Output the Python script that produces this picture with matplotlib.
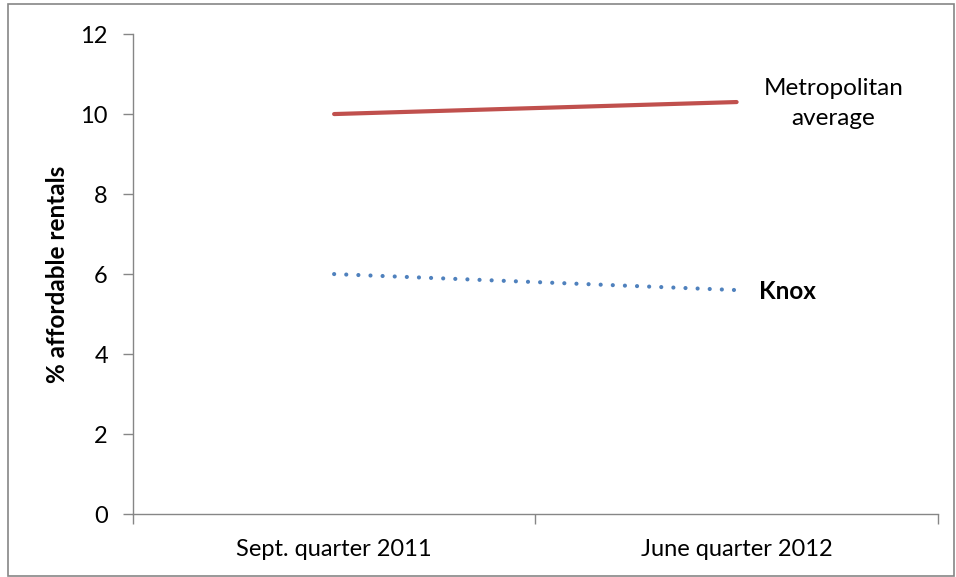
import matplotlib
matplotlib.use("Agg")
import matplotlib.pyplot as plt
from matplotlib.patches import Rectangle

categories = ["Sept. quarter 2011", "June quarter 2012"]
metro = [10.0, 10.3]
knox = [6.0, 5.6]
yticks = [0, 2, 4, 6, 8, 10, 12]

plt.rcParams['font.family'] = ['Lato', 'DejaVu Sans']

fig = plt.figure(figsize=(9.56, 5.77), dpi=100)
ax = fig.add_axes([0.139, 0.109, 0.842, 0.832])

x = list(range(len(categories)))
ax.plot(x, metro, color='#C0504D', lw=3, solid_capstyle='round')
ax.plot(x, knox, color='#4F81BD', lw=3, linestyle=(0, (0.01, 2.9)), dash_capstyle='round')

ax.set_xlim(-0.5, 1.5)
ax.set_ylim(0, 12)
ax.set_yticks(yticks)
ax.set_yticklabels([str(v) for v in yticks], fontsize=17)
ax.set_xticks([-0.5, 0.5, 1.5])
ax.set_xticklabels([])
ax.set_xticks(x, minor=True)
ax.set_xticklabels(categories, minor=True, fontsize=17)
ax.tick_params(axis='x', which='minor', length=0, pad=18)
ax.tick_params(axis='x', which='major', length=7, color='#868686', width=1)
ax.tick_params(axis='y', length=7, color='#868686', width=1, pad=11)

for s in ['top', 'right']:
    ax.spines[s].set_visible(False)
for s in ['left', 'bottom']:
    ax.spines[s].set_color('#868686')
    ax.spines[s].set_linewidth(1)

ax.set_ylabel('% affordable rentals', fontsize=17.5, fontweight='bold', labelpad=8)

ax.text(1.24, metro[1] - 0.03, 'Metropolitan\naverage', fontsize=17.5, ha='center', va='center', linespacing=1.55)
ax.text(1.055, knox[1] - 0.04, 'Knox', fontsize=17.5, fontweight='bold', ha='left', va='center')

fig.patches.append(Rectangle((0.008, 0.002), 0.99, 0.991, transform=fig.transFigure,
                             fill=False, edgecolor='#868686', lw=1.2))

fig.savefig('out.png', dpi=100)
